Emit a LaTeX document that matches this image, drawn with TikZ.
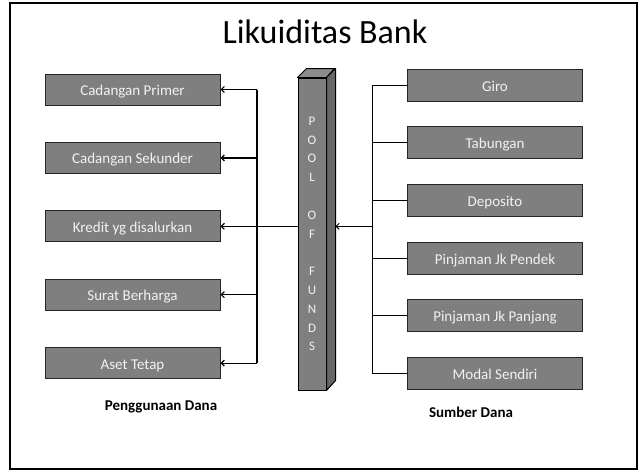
\documentclass[tikz,border=0pt]{standalone}
\usepackage{fontspec}
\setmainfont{Carlito}
\usetikzlibrary{arrows.meta}
\definecolor{boxgray}{HTML}{7F7F7F}
\definecolor{topgray}{HTML}{8C8C8C}
\definecolor{sidegray}{HTML}{666666}
\begin{document}
\begin{tikzpicture}[x=1pt,y=-1pt,
  dana/.style={draw=black!85,line width=1pt,fill=boxgray,text=white!95!black,
    minimum width=175pt,minimum height=31pt,inner sep=0pt,
    text height=12pt,text depth=0pt,
    font=\fontsize{15}{18}\selectfont},
  link/.style={line width=1.2pt},
  >={Straight Barb[length=3pt,width=6pt]}]
  \useasboundingbox (0,0) rectangle (640,471);
  % Draw the frame
  \draw[line width=2pt] (10,3) rectangle (637,469);

  % Title
  \node[anchor=base,font=\fontsize{34}{38}\selectfont] (title) at (325,43) {Likuiditas Bank};

  % Draw the pool of funds as a pillar
  \node[draw=black,line width=1pt,fill=boxgray,text=white!95!black,
    minimum width=28pt,minimum height=312pt,inner sep=0pt,align=center,
    font=\fontsize{13}{18.8}\selectfont] (pool) at (312,234)
    {P\\O\\O\\L\\~\\O\\F\\~\\F\\U\\N\\D\\S};
  \filldraw[fill=topgray,line width=1pt,line join=round] (pool.north west) -- ++(9,-9) -- ++(28,0) -- (pool.north east) -- cycle;
  \filldraw[fill=sidegray,line width=1pt,line join=round] (pool.north east) -- ++(9,-9) -- ++(0,312) -- (pool.south east) -- cycle;
  \coordinate (poolside) at ([xshift=9pt]pool.east);

  % Uses of funds on the left
  \foreach \name/\txt [count=\i] in {primer/Cadangan Primer,sekunder/Cadangan Sekunder,
      kredit/Kredit yg disalurkan,surat/Surat Berharga,aset/Aset Tetap} {
    \node[dana] (\name) at (132.5,{89.5+68.4*(\i-1)}) {\txt};
  }
  \coordinate (lbus) at (257,0);
  \draw[link] (lbus |- primer.east) -- (lbus |- aset.east);
  \foreach \name in {primer,sekunder,surat,aset} {
    \draw[link,->] (lbus |- \name.east) -- (\name.east);
  }
  \draw[link,->] (pool.west |- kredit.east) -- (kredit.east);

  % Sources of funds on the right
  \foreach \name/\txt [count=\i] in {giro/Giro,tabungan/Tabungan,deposito/Deposito,
      pendek/Pinjaman Jk Pendek,panjang/Pinjaman Jk Panjang,modal/Modal Sendiri} {
    \node[dana,minimum height=32pt] (\name) at (495,{85+57.7*(\i-1)}) {\txt};
  }
  \coordinate (rbus) at (372,0);
  \draw[line width=1pt] (rbus |- giro.west) -- (rbus |- modal.west);
  \foreach \name in {giro,tabungan,deposito,pendek,panjang,modal} {
    \draw[line width=1pt] (rbus |- \name.west) -- (\name.west);
  }
  \draw[line width=1pt,->] (rbus |- kredit.east) -- (poolside |- kredit.east);

  % Captions
  \node[anchor=base,font=\bfseries\fontsize{15}{17}\selectfont] (pakai) at (161,410) {Penggunaan Dana};
  \node[anchor=base,font=\bfseries\fontsize{15}{17}\selectfont] (sumber) at (471,417) {Sumber Dana};
\end{tikzpicture}
\end{document}
